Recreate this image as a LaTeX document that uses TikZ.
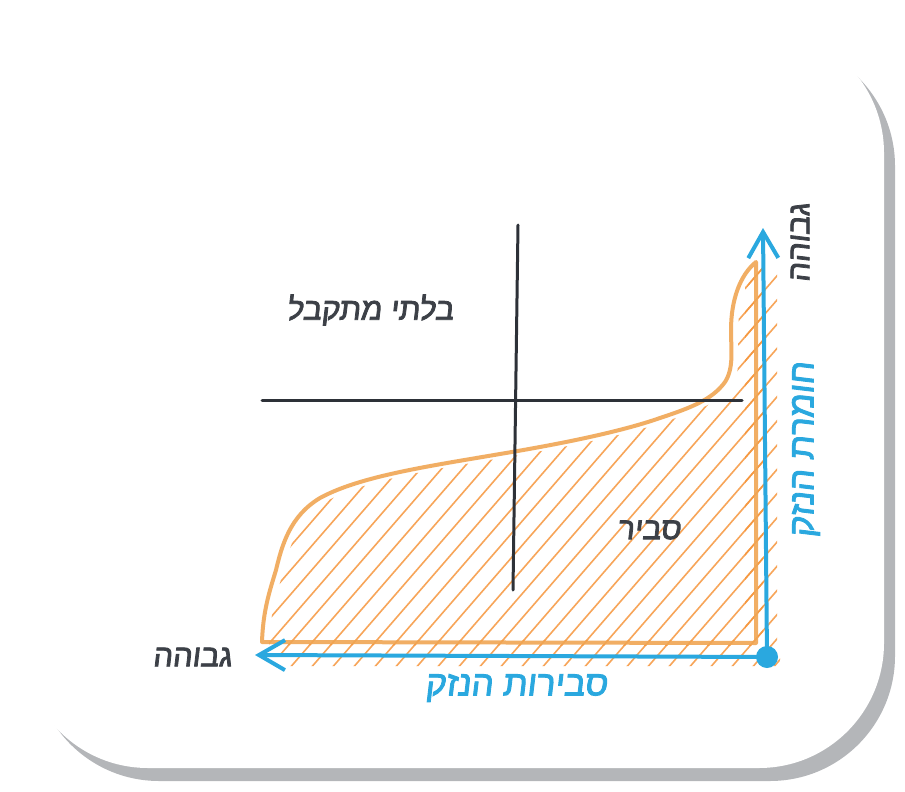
\documentclass[tikz,border=0pt]{standalone}
\usepackage{fontspec}
\usetikzlibrary{arrows.meta}
\TeXXeTstate=1
\newfontfamily\hebfont[Script=Hebrew,FakeSlant=0.12,FakeBold=2.5]{Liberation Sans}
\definecolor{ink}{RGB}{60,64,71}
\definecolor{lineink}{RGB}{45,49,56}
\definecolor{axisblue}{RGB}{42,168,223}
\definecolor{orangeline}{RGB}{240,166,84}
\definecolor{hatchor}{RGB}{246,150,60}
\definecolor{shadowgray}{RGB}{180,182,185}
\tikzset{
  card/.style={fill=white, rounded corners=125pt},
  shadowcard/.style={fill=shadowgray, rounded corners=125pt},
  hatchline/.style={draw=hatchor, line width=1.6pt, opacity=0.85},
  outline/.style={draw=orangeline, line width=4pt, line join=round, line cap=round, opacity=0.9},
  quadline/.style={draw=lineink, line width=3pt, line cap=round},
  axisline/.style={draw=axisblue, line width=4pt, line cap=round, line join=round,
    -{Straight Barb[length=26pt,width=30pt,line width=4pt]}},
  dottip/.style={circle, fill=axisblue, minimum size=22pt, inner sep=0pt},
  darklabel/.style={text=ink, font=\hebfont\fontsize{31}{36}\selectfont, inner sep=0pt},
  bluelabel/.style={text=axisblue, font=\hebfont\fontsize{35}{40}\selectfont, inner sep=0pt}
}
\def\riskshape{(262,642) -- (756,643) -- (756,262)
  .. controls (740,275) and (731,300) .. (731,330)
  .. controls (731,350) and (734,368) .. (725,382)
  .. controls (712,400) and (690,408) .. (660,418)
  .. controls (620,432) and (560,444) .. (500,454)
  .. controls (430,466) and (360,476) .. (320,498)
  .. controls (290,516) and (282,545) .. (276,570)
  .. controls (270,590) and (263,610) .. (262,642) -- cycle}
\begin{document}
\begin{tikzpicture}[x=1pt,y=-1pt]
\useasboundingbox (0,0) rectangle (905,792);
% card and its shadow
\path[shadowcard] (34,41) rectangle (895,781);
\path[card] (23,28) rectangle (884,768);
% hatching
\begin{scope}
  \clip[shift={(7,3)}] \riskshape;
  \foreach \x in {-200,-179,...,800} {
    \draw[hatchline] (\x,700) -- ++(393,-453);
  }
\end{scope}
\begin{scope}
  \clip (280,640) rectangle (780,666) (745,268) rectangle (777,666);
  \foreach \x in {-200,-179,...,800} {
    \draw[hatchline] (\x,700) -- ++(393,-453);
  }
\end{scope}
% orange outline
\draw[outline] \riskshape;
% quadrant lines
\coordinate (vtop) at (518,225);
\coordinate (vbot) at (513,590);
\coordinate (hleft) at (262,400);
\coordinate (hright) at (742,400);
\draw[quadline] (vtop) -- (vbot);
\draw[quadline] (hleft) -- (hright);
% axes
\node[dottip] (origin) at (767,657) {};
\coordinate (xtip) at (255,655);
\coordinate (ytip) at (763,228);
\draw[axisline] (origin.center) -- (xtip);
\draw[axisline] (origin.center) -- (ytip);
% labels
\node[darklabel] (unacc) at (370,310) {\beginR בלתי מתקבל\endR};
\node[darklabel] (reas) at (649,530) {\beginR סביר\endR};
\node[darklabel] (highx) at (192,657) {\beginR גבוהה\endR};
\node[bluelabel] (likeli) at (516,688) {\beginR סבירות הנזק\endR};
\node[darklabel, rotate=90] (highy) at (800,243) {\beginR גבוהה\endR};
\node[bluelabel, rotate=90] (sever) at (806,450) {\beginR חומרת הנזק\endR};
\end{tikzpicture}
\end{document}
